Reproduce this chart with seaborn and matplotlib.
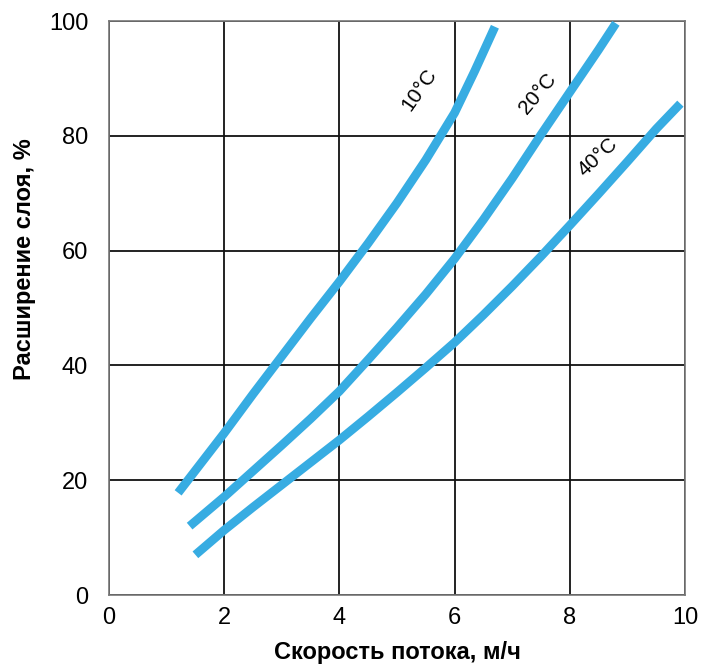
import numpy as np
import pandas as pd
import seaborn as sns
import matplotlib
matplotlib.use("Agg")
import matplotlib.pyplot as plt

sns.set_style("white")
plt.rcParams["font.family"] = ["Liberation Sans", "DejaVu Sans"]
for k in ["text.color", "axes.labelcolor", "xtick.color", "ytick.color"]:
    plt.rcParams[k] = "black"

# flow rate (m/h) vs bed expansion (%)
x_10 = [1.2, 1.5, 2.0, 2.5, 3.0, 3.5, 4.0, 4.5, 5.0, 5.5, 6.0, 6.35, 6.7]
y_10 = [17.8, 21.7, 28.2, 35.0, 41.6, 48.2, 54.6, 61.3, 68.3, 75.8, 84.0, 91.3, 99.0]

x_20 = [1.4, 2.0, 2.5, 3.0, 3.5, 4.0, 4.5, 5.0, 5.5, 6.0, 6.5, 7.0, 7.5, 8.0, 8.5, 8.8]
y_20 = [12.0, 17.1, 21.6, 26.1, 30.7, 35.5, 41.0, 46.6, 52.4, 58.6, 65.4, 72.6, 80.2, 87.6, 95.0, 99.6]

x_40 = [1.5, 2.0, 2.5, 3.0, 3.5, 4.0, 4.5, 5.0, 5.5, 6.0, 6.5, 7.0, 7.5, 8.0, 8.5, 9.0, 9.5, 9.92]
y_40 = [7.0, 11.3, 15.3, 19.2, 23.1, 27.0, 31.1, 35.3, 39.6, 44.0, 48.8, 53.8, 59.0, 64.4, 69.9, 75.5, 81.2, 85.6]

curve_labels = ["10°C", "20°C", "40°C"]
label_pos = [(5.38, 88.0, 55), (7.44, 87.4, 50), (8.49, 76.3, 43)]

df = pd.concat([
    pd.DataFrame({"v": x_10, "e": y_10, "T": "10°C"}),
    pd.DataFrame({"v": x_20, "e": y_20, "T": "20°C"}),
    pd.DataFrame({"v": x_40, "e": y_40, "T": "40°C"}),
], ignore_index=True)

blue = "#37ACE2"

fig = plt.figure(figsize=(7.1, 6.66), dpi=100)
ax = fig.add_axes([109/710, 1-595/666, 576/710, 574/666])

for T in curve_labels:
    sns.lineplot(data=df[df["T"] == T], x="v", y="e", color=blue,
                 linewidth=6.3, estimator=None, sort=False, legend=False,
                 ax=ax, zorder=5, solid_capstyle="butt")

for lab, (tx, ty, rot) in zip(curve_labels, label_pos):
    ax.text(tx, ty, lab, rotation=rot, ha="center", va="center",
            fontsize=15, zorder=6)

ax.set_xlim(0, 10)
ax.set_ylim(0, 100)
ax.set_xticks([0, 2, 4, 6, 8, 10])
ax.set_yticks([0, 20, 40, 60, 80, 100])
ax.grid(True, color="#111111", linewidth=1.3)
ax.set_axisbelow(True)
for s in ax.spines.values():
    s.set_color("#777777")
    s.set_linewidth(1.2)
ax.tick_params(length=0, labelsize=17)
ax.tick_params(axis="y", pad=15)
ax.tick_params(axis="x", pad=9)

ax.set_xlabel("Скорость потока, м/ч", fontsize=17, fontweight="bold")
ax.set_ylabel("Расширение слоя, %", fontsize=17, fontweight="bold")
ax.xaxis.set_label_coords(0.5, -46/574)
ax.yaxis.set_label_coords(-73/576, (595-259)/574)

plt.savefig("out.png", dpi=100)
